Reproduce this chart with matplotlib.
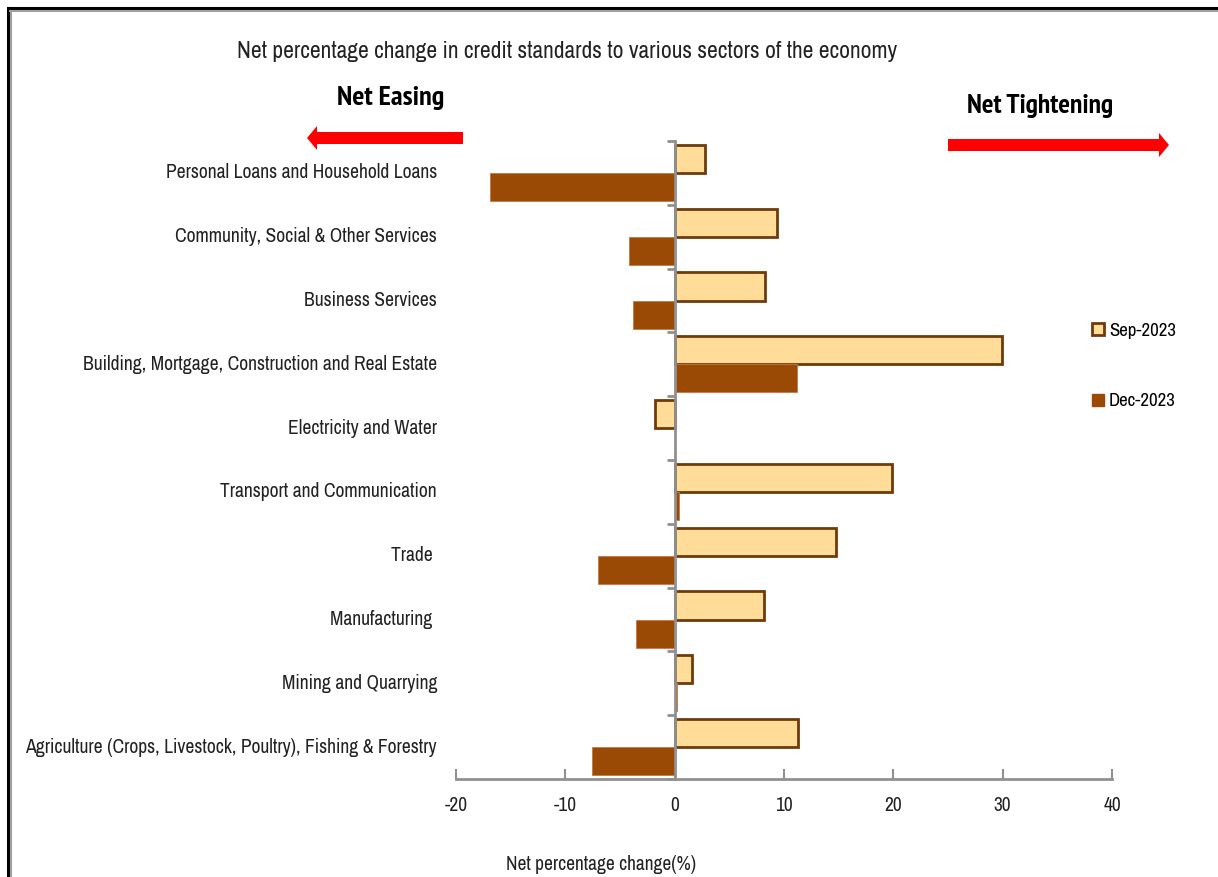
import matplotlib
matplotlib.use("Agg")
import matplotlib.pyplot as plt
from matplotlib import font_manager
from matplotlib.lines import Line2D
from matplotlib.patches import FancyArrow
import matplotlib.transforms as mtransforms
import numpy as np

categories = [
    "Personal Loans and Household Loans",
    "Community, Social & Other Services",
    "Business Services",
    "Building, Mortgage, Construction and Real Estate",
    "Electricity and Water",
    "Transport and Communication",
    "Trade ",
    "Manufacturing ",
    "Mining and Quarrying",
    "Agriculture (Crops, Livestock, Poultry), Fishing & Forestry",
]
sep_2023 = [2.8, 9.4, 8.3, 29.9, -1.8, 19.9, 14.8, 8.2, 1.6, 11.3]
dec_2023 = [-16.9, -4.2, -3.8, 11.2, 0.0, 0.4, -7.0, -3.5, 0.2, -7.6]
series_names = ["Sep-2023", "Dec-2023"]
xticks = [-20, -10, 0, 10, 20, 30, 40]

ttf = font_manager.fontManager.ttflist
names = {f.name for f in ttf}
prefs = ["Liberation Sans Narrow", "Arial Narrow", "Archivo Narrow", "PT Sans Narrow",
         "Roboto Condensed", "IBM Plex Sans Condensed", "Open Sans Condensed", "Liberation Sans"]
fam = next(p for p in prefs if p in names)


def has_bold(name):
    for f in ttf:
        if f.name == name and f.style == "normal":
            w = f.weight
            if isinstance(w, str):
                w = {"bold": 700, "heavy": 800, "black": 900}.get(w, 400)
            if w >= 700:
                return True
    return False


bold_fam = next(p for p in prefs if p in names and has_bold(p))
plt.rcParams["font.family"] = [fam, "DejaVu Sans"]

W, H = 1218, 877
fig = plt.figure(figsize=(W / 100, H / 100), dpi=100)
fig.patch.set_facecolor("white")
renderer = fig.canvas.get_renderer()


def fit_size(text, target_px, weight="normal", family=None):
    kw = {"family": [family, "DejaVu Sans"]} if family else {}
    t = fig.text(0, 0, text, fontsize=20, fontweight=weight, **kw)
    w = t.get_window_extent(renderer).width
    t.remove()
    return 20 * target_px / w


lab_fs = fit_size(categories[-1], 412)
title_fs = fit_size("Net percentage change in credit standards to various sectors of the economy", 660)
ease_fs = fit_size("Net Easing", 107, "bold", bold_fam)
tight_fs = fit_size("Net Tightening", 146, "bold", bold_fam)
leg_fs = fit_size("Sep-2023", 67)
xlab_fs = fit_size("Net percentage change(%)", 190)
tick_fs = fit_size("-20", 23)

ax_l, ax_r, ax_b, ax_t = 456, 1112, 779, 141
ax = fig.add_axes([ax_l / W, 1 - ax_b / H, (ax_r - ax_l) / W, (ax_b - ax_t) / H])

n = len(categories)
y = np.arange(n)
bh = 0.44
sep_fc, sep_ec = "#FFDC98", "#6E3B0C"
dec_fc, dec_ec = "#9B4A06", "#C27A45"

ax.barh(y - bh / 2, sep_2023, height=bh, color=sep_fc, edgecolor=sep_ec, linewidth=2.0, zorder=3)
ax.barh(y + bh / 2, dec_2023, height=bh, color=dec_fc, edgecolor=dec_ec, linewidth=0.6, zorder=3)

ax.set_xlim(-20, 40)
ax.set_ylim(n - 0.5, -0.5)
ax.set_xticks(xticks)
ax.set_xticklabels([str(t) for t in xticks], fontsize=tick_fs, color="#222222")
ax.tick_params(axis="x", direction="in", length=7, width=1.5, color="#909090", pad=12)

for s in ["top", "right"]:
    ax.spines[s].set_visible(False)
ax.spines["bottom"].set_color("#909090")
ax.spines["bottom"].set_linewidth(2)
ax.spines["left"].set_position(("data", 0))
ax.spines["left"].set_color("#909090")
ax.spines["left"].set_linewidth(2)
ax.spines["left"].set_zorder(4)
ax.set_yticks(np.arange(n + 1) - 0.5)
ax.set_yticklabels([])
ax.tick_params(axis="y", direction="out", length=6, width=2, color="#909090")

trans = mtransforms.blended_transform_factory(ax.transAxes, ax.transData)
for i, c in enumerate(categories):
    ax.text(-(456 - 437) / (ax_r - ax_l), i, c, transform=trans, ha="right", va="center",
            fontsize=lab_fs, color="#222222")

ax.set_xlabel("Net percentage change(%)", fontsize=xlab_fs, color="#222222")
ax.xaxis.set_label_coords((601 - ax_l) / (ax_r - ax_l), (ax_b - 855) / (ax_b - ax_t))

fig.text(567 / W, 1 - 51 / H, "Net percentage change in credit standards to various sectors of the economy",
         ha="center", va="center", fontsize=title_fs, color="#222222")
fig.text(391 / W, 1 - 98 / H, "Net Easing", ha="center", va="center", fontsize=ease_fs,
         fontweight="bold", family=[bold_fam, "DejaVu Sans"])
fig.text(1040 / W, 1 - 106 / H, "Net Tightening", ha="center", va="center", fontsize=tight_fs,
         fontweight="bold", family=[bold_fam, "DejaVu Sans"])


def arrow(x0, x1, yy):
    a = FancyArrow(x0 / W, 1 - yy / H, (x1 - x0) / W, 0, width=12 / H,
                   head_width=24 / H, head_length=10 / W, length_includes_head=True,
                   transform=fig.transFigure, color="#FF0000", lw=0)
    fig.patches.append(a)


arrow(463, 307, 138)
arrow(948, 1169, 145)

handles = [
    Line2D([], [], marker="s", linestyle="none", markersize=9, markerfacecolor=sep_fc,
           markeredgecolor=sep_ec, markeredgewidth=2),
    Line2D([], [], marker="s", linestyle="none", markersize=9, markerfacecolor=dec_fc,
           markeredgecolor=dec_fc),
]
fig.legend(handles, series_names, loc="center left", bbox_to_anchor=(1079 / W, 1 - 366 / H),
           frameon=False, fontsize=leg_fs, labelspacing=2.9, handletextpad=0.1, handlelength=1.0,
           borderpad=0)

fig.add_artist(Line2D([8 / W, 8 / W], [0, 1 - 8 / H], transform=fig.transFigure, color="black", lw=2.2))
fig.add_artist(Line2D([10.5 / W, 10.5 / W], [0, 1 - 10 / H], transform=fig.transFigure, color="#A0A0A0", lw=1.5))
fig.add_artist(Line2D([8 / W, 1], [1 - 8 / H, 1 - 8 / H], transform=fig.transFigure, color="black", lw=2.2))
fig.add_artist(Line2D([10 / W, 1], [1 - 10.5 / H, 1 - 10.5 / H], transform=fig.transFigure, color="#A0A0A0", lw=1.5))

fig.savefig("out.png", dpi=100)
